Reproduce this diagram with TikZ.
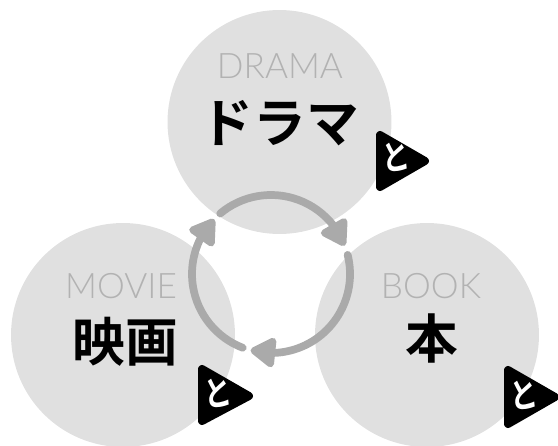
\documentclass[tikz,border=0pt]{standalone}
\usepackage{fontspec}
\usetikzlibrary{arrows.meta,bending}
\setmainfont{Lato}[UprightFont=* Light]
\newfontfamily\jpfont{Noto Sans CJK JP}[UprightFont=* Bold]
\definecolor{mediagray}{RGB}{224,224,224}
\definecolor{labelgray}{RGB}{178,178,178}
\definecolor{cyclegray}{RGB}{170,170,170}
\tikzset{
  mediacircle/.style={circle, fill=mediagray, inner sep=0pt, minimum size=4.48cm},
  engtext/.style={text=labelgray, font=\fontsize{20}{20}\selectfont, inner sep=0pt},
  jptext/.style={text=black, font=\jpfont\fontsize{30}{30}\selectfont, inner sep=0pt},
  badge/.style={fill=black, draw=black, line width=1.6mm, line join=round},
  badgetext/.style={text=white, font=\jpfont\fontsize{20}{20}\selectfont, inner sep=0pt, xscale=0.8, rotate=8},
  cyclearrow/.style={cyclegray, line width=4.4pt, line cap=round,
    -{Triangle[length=16pt,width=19pt,round,flex]}}
}
\begin{document}
\begin{tikzpicture}[x=0.02cm,y=0.02cm]
    \useasboundingbox (0,0) rectangle (558,446);

    % Circles
    \node[mediacircle] (drama) at (279.5,324) {};
    \node[mediacircle] (movie) at (123,111) {};
    \node[mediacircle] (book) at (427,111) {};

    % Cycle arrows
    \coordinate (ring) at (271,172);
    \draw[cyclearrow] (ring) ++(130:79) coordinate (dramaend) arc[start angle=130, end angle=21, radius=79];
    \draw[cyclearrow] (ring) ++(14:79) coordinate (bookend) arc[start angle=14, end angle=-105, radius=79];
    \draw[cyclearrow] (ring) ++(249:79) coordinate (movieend) arc[start angle=249, end angle=136, radius=79];

    % Labels
    \node[engtext] (dramaeng) at (280,380) {DRAMA};
    \node[jptext] (dramajp) at (280,323) {ドラマ};
    \node[engtext] (movieeng) at (121,160) {MOVIE};
    \node[jptext] (moviejp) at (125,104) {映画};
    \node[engtext] (bookeng) at (431,160) {BOOK};
    \node[jptext] (bookjp) at (432,107) {本};

    % Badges
    \draw[badge] (380,311) -- (425,285) -- (380,259) -- cycle;
    \node[badgetext] (dramato) at (396,289) {と};
    \draw[badge] (202,77) -- (249,50) -- (202,25) -- cycle;
    \node[badgetext] (movieto) at (218,53) {と};
    \draw[badge] (508,76) -- (555,49) -- (508,22) -- cycle;
    \node[badgetext] (bookto) at (524,51) {と};
\end{tikzpicture}
\end{document}
